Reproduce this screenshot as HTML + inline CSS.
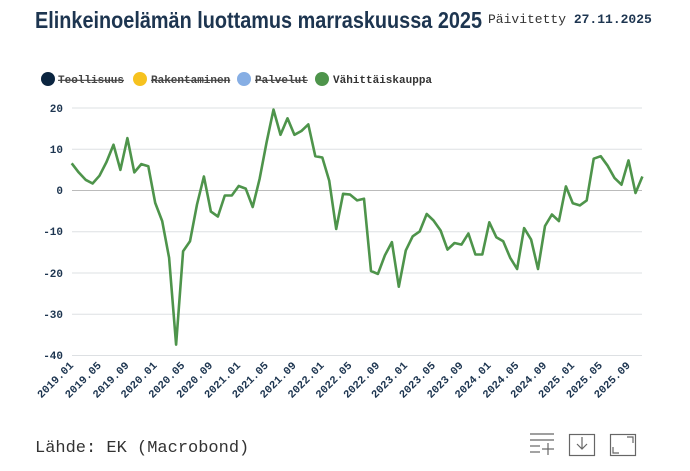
<!DOCTYPE html>
<html><head><meta charset="utf-8"><style>
html,body{margin:0;padding:0;background:#fff;}
svg{display:block;}
.mono{font-family:"Liberation Mono","DejaVu Sans Mono",monospace;}
</style></head><body>
<svg width="690" height="471" viewBox="0 0 690 471" xmlns="http://www.w3.org/2000/svg">
<text x="35" y="28" font-family="'Liberation Sans Narrow','Liberation Sans',sans-serif" font-weight="bold" font-size="23" fill="#1d3550" textLength="447" lengthAdjust="spacingAndGlyphs">Elinkeinoelämän luottamus marraskuussa 2025</text>
<text x="488" y="23" class="mono" font-size="13" fill="#333">Päivitetty <tspan font-weight="bold" fill="#1d3550">27.11.2025</tspan></text>
<g class="mono" font-size="11" font-weight="bold">
<circle cx="48" cy="79" r="7" fill="#0b2540"/><text x="58" y="83" fill="#444" text-decoration="line-through">Teollisuus</text>
<circle cx="140" cy="79" r="7" fill="#f6c21f"/><text x="151" y="83" fill="#444" text-decoration="line-through">Rakentaminen</text>
<circle cx="244" cy="79" r="7" fill="#86aee4"/><text x="255" y="83" fill="#444" text-decoration="line-through">Palvelut</text>
<circle cx="322" cy="79" r="7" fill="#4e944b"/><text x="333" y="83" fill="#333">Vähittäiskauppa</text>
</g>
<g stroke="#dde0e3" stroke-width="1">
<line x1="72" y1="108" x2="642" y2="108"/><line x1="72" y1="149.3" x2="642" y2="149.3"/>
<line x1="72" y1="231.7" x2="642" y2="231.7"/><line x1="72" y1="273" x2="642" y2="273"/>
<line x1="72" y1="314.3" x2="642" y2="314.3"/><line x1="72" y1="355.5" x2="642" y2="355.5"/>
</g>
<line x1="72" y1="190.5" x2="642" y2="190.5" stroke="#bbb"/>
<g class="mono" font-size="11" font-weight="bold" fill="#1d3550" text-anchor="end">
<text x="63" y="112">20</text><text x="63" y="153">10</text><text x="63" y="194">0</text>
<text x="63" y="235">-10</text><text x="63" y="277">-20</text><text x="63" y="318">-30</text><text x="63" y="359">-40</text>
</g>
<polyline fill="none" stroke="#4e944b" stroke-width="2.6" stroke-linejoin="round" points="71.7,163.3 78.7,172.4 85.6,179.8 92.6,183.5 99.5,175.7 106.5,162.0 113.5,144.7 120.4,169.9 127.4,138.1 134.3,172.4 141.3,164.1 148.3,166.2 155.2,202.9 162.2,221.1 169.1,257.8 176.1,344.6 183.1,251.2 190.0,241.3 197.0,204.5 203.9,176.5 210.9,211.6 217.9,216.5 224.8,195.5 231.8,195.5 238.7,186.0 245.7,188.6 252.7,207.0 259.6,178.9 266.6,142.2 273.5,109.6 280.5,134.8 287.5,118.3 294.4,134.8 301.4,131.0 308.3,124.4 315.3,156.2 322.3,157.5 329.2,180.6 336.2,229.0 343.1,193.8 350.1,194.6 357.1,200.4 364.0,198.7 371.0,271.0 377.9,273.9 384.9,255.3 391.9,242.1 398.8,286.7 405.8,250.4 412.7,236.3 419.7,231.4 426.7,214.0 433.6,220.6 440.6,230.5 447.5,249.6 454.5,243.0 461.5,244.6 468.4,233.5 475.4,254.5 482.3,254.5 489.3,222.3 496.3,237.2 503.2,241.3 510.2,257.8 517.1,269.0 524.1,228.1 531.1,239.6 538.0,269.0 545.0,226.0 551.9,214.5 558.9,221.1 565.9,186.4 572.8,203.3 579.8,205.4 586.7,200.4 593.7,158.7 600.7,156.2 607.6,165.7 614.6,178.1 621.5,184.7 628.5,160.4 635.5,193.0 642.4,176.5"/>
<g class="mono" font-size="11" font-weight="bold" fill="#1d3550" text-anchor="end" id="xl">
<text transform="translate(74,366) rotate(-45)">2019.01</text>
<text transform="translate(101.8,366) rotate(-45)">2019.05</text>
<text transform="translate(129.6,366) rotate(-45)">2019.09</text>
<text transform="translate(157.5,366) rotate(-45)">2020.01</text>
<text transform="translate(185.3,366) rotate(-45)">2020.05</text>
<text transform="translate(213.2,366) rotate(-45)">2020.09</text>
<text transform="translate(241.0,366) rotate(-45)">2021.01</text>
<text transform="translate(268.8,366) rotate(-45)">2021.05</text>
<text transform="translate(296.7,366) rotate(-45)">2021.09</text>
<text transform="translate(324.5,366) rotate(-45)">2022.01</text>
<text transform="translate(352.4,366) rotate(-45)">2022.05</text>
<text transform="translate(380.2,366) rotate(-45)">2022.09</text>
<text transform="translate(408.0,366) rotate(-45)">2023.01</text>
<text transform="translate(435.9,366) rotate(-45)">2023.05</text>
<text transform="translate(463.7,366) rotate(-45)">2023.09</text>
<text transform="translate(491.6,366) rotate(-45)">2024.01</text>
<text transform="translate(519.4,366) rotate(-45)">2024.05</text>
<text transform="translate(547.2,366) rotate(-45)">2024.09</text>
<text transform="translate(575.1,366) rotate(-45)">2025.01</text>
<text transform="translate(602.9,366) rotate(-45)">2025.05</text>
<text transform="translate(630.8,366) rotate(-45)">2025.09</text>
</g>
<text x="35" y="452" class="mono" font-size="17" fill="#333">Lähde: EK (Macrobond)</text>
<g stroke="#666" stroke-width="1.2" fill="none">
<line x1="530" y1="434" x2="554" y2="434"/><line x1="530" y1="440" x2="554" y2="440"/>
<line x1="530" y1="446" x2="540" y2="446"/><line x1="530" y1="452" x2="540" y2="452"/>
<line x1="542" y1="449" x2="554" y2="449"/><line x1="548" y1="443" x2="548" y2="455"/>
<rect x="569.5" y="434.5" width="25" height="21"/><path d="M582 437 V449 M577 444 L582 449 L587 444"/>
<rect x="610.5" y="434.5" width="25" height="21"/><path d="M627 437 H633 V443 M613 447 V453 H619"/>
</g>
</svg>
</body></html>
